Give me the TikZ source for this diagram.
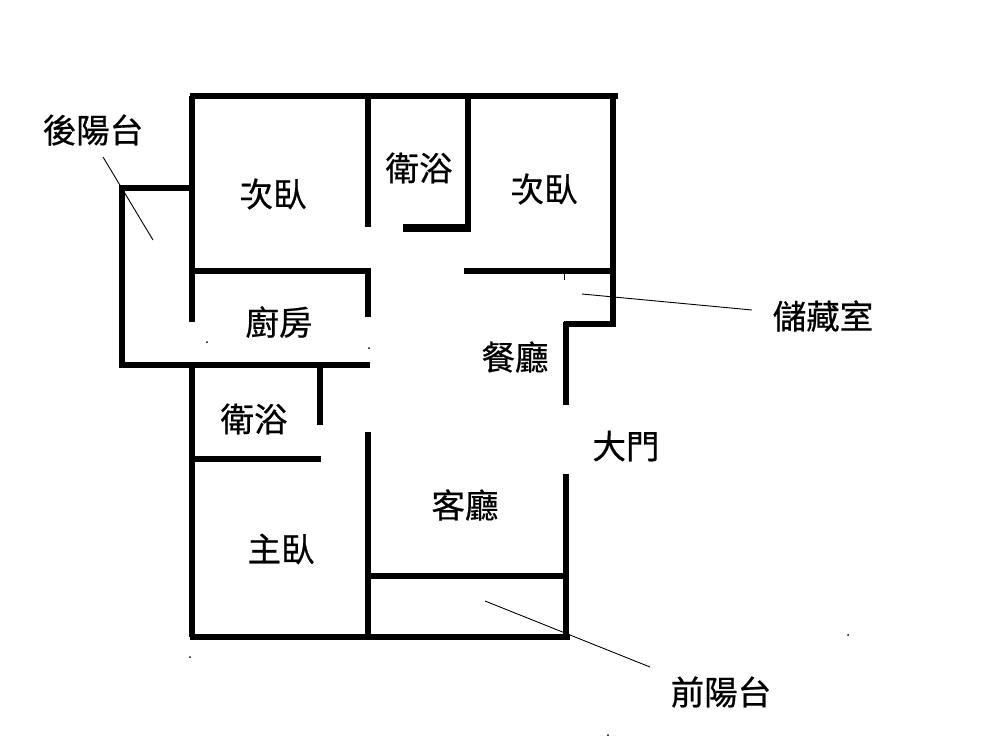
\documentclass[tikz,border=0pt]{standalone}
\usepackage{fontspec}
\newfontfamily\cjk[FakeBold=0.6]{Noto Sans CJK TC}
\tikzset{
	wall/.style={line width=6pt, color=black},
	leader/.style={line width=0.9pt, color=black},
	room/.style={font=\cjk\fontsize{33.5}{33.5}\selectfont, inner sep=0pt}
}
\begin{document}
\begin{tikzpicture}[x=1pt, y=-1pt]
			%%%%% START %%%%%
			\useasboundingbox (0, 0) rectangle (1000, 739);
			
			\draw[wall] (190, 96) -- (618, 96);
			\draw[wall] (192, 96) -- (192, 322);
			\draw[wall] (192, 362) -- (192, 637);
			\draw[wall] (190, 637) -- (570, 637);
			
			\draw[wall] (192, 188) -- (122, 188) -- (122, 365) -- (370, 365);
			
			\draw[wall] (368, 96) -- (368, 227);
			\draw[wall] (192, 271) -- (368, 271) -- (368, 317);
			
			\draw[wall] (468, 96) -- (468, 228);
			\draw[line width=7.5pt] (403, 228) -- (471, 228);
			
			\draw[wall] (464, 271) -- (613, 271);
			\draw[wall] (613, 96) -- (613, 324) -- (564, 324);
			\draw[wall] (566, 322) -- (566, 405);
			\draw[line width=1pt] (564, 271) -- (564, 280);
			
			\draw[wall] (320, 365) -- (320, 425);
			\draw[wall] (192, 459) -- (321, 459);
			
			\draw[wall] (368, 432) -- (368, 637);
			\draw[wall] (566, 474) -- (566, 637);
			\draw[line width=6.5pt] (368, 576) -- (566, 576);
			
			\node[room] (backbalcony) at (93, 130) {後陽台};
			\node[room] (bedroomleft) at (273, 194) {次臥};
			\node[room] (bathtop) at (419, 168) {衛浴};
			\node[room] (bedroomright) at (544, 189) {次臥};
			\node[room] (storage) at (823, 316) {儲藏室};
			\node[room] (kitchen) at (279, 322) {廚房};
			\node[room] (dining) at (515, 357) {餐廳};
			\node[room] (bathlow) at (254, 419) {衛浴};
			\node[room] (frontdoor) at (626, 446) {大門};
			\node[room] (living) at (465, 505) {客廳};
			\node[room] (masterbed) at (281, 549) {主臥};
			\node[room] (frontbalcony) at (721, 692) {前陽台};
			
			\coordinate (backtop) at (103, 157);
			\coordinate (backend) at (153, 240);
			\draw[leader] (backtop) -- (backend);
			\coordinate (storeright) at (752, 310);
			\coordinate (storeend) at (582, 294);
			\draw[leader] (storeright) -- (storeend);
			\coordinate (frontright) at (650, 667);
			\coordinate (frontend) at (485, 601);
			\draw[leader] (frontright) -- (frontend);
			
			\fill (190, 657) circle (1);
			\fill (848, 635) circle (1);
			\fill (608, 735) circle (1);
			\fill (207, 342) circle (1);
			\fill (369, 348) circle (1);
			
			%%%%% END %%%%%
		\end{tikzpicture}
\end{document}
